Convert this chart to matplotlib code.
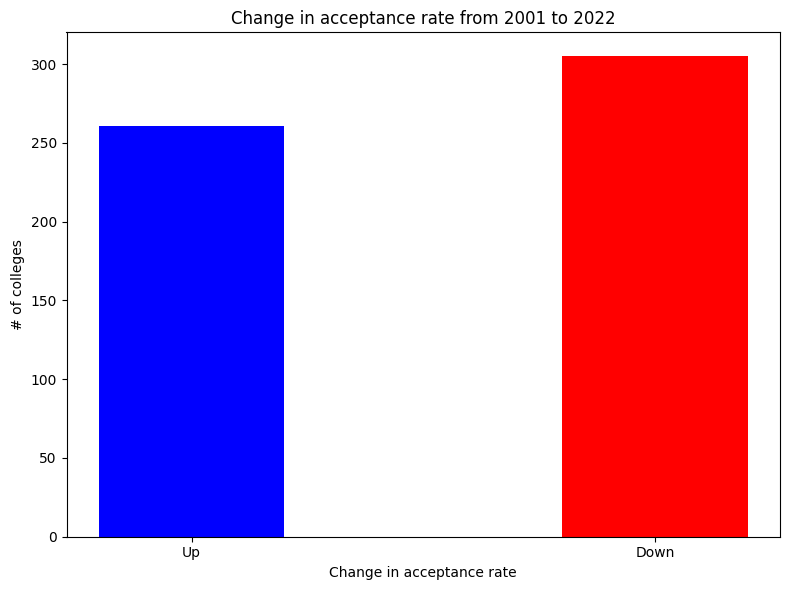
import matplotlib
matplotlib.use("Agg")
import matplotlib.pyplot as plt

categories = ["Up", "Down"]
counts = [261, 305]
colors = ["blue", "red"]

fig, ax = plt.subplots(figsize=(7.9, 5.9), dpi=100)
ax.bar(categories, counts, color=colors, width=0.4)
ax.set_title("Change in acceptance rate from 2001 to 2022")
ax.set_xlabel("Change in acceptance rate")
ax.set_ylabel("# of colleges")
fig.subplots_adjust(left=66.5 / 790, right=780 / 790, top=1 - 32.3 / 590, bottom=1 - 536.7 / 590)
fig.savefig("out.png", dpi=100)
